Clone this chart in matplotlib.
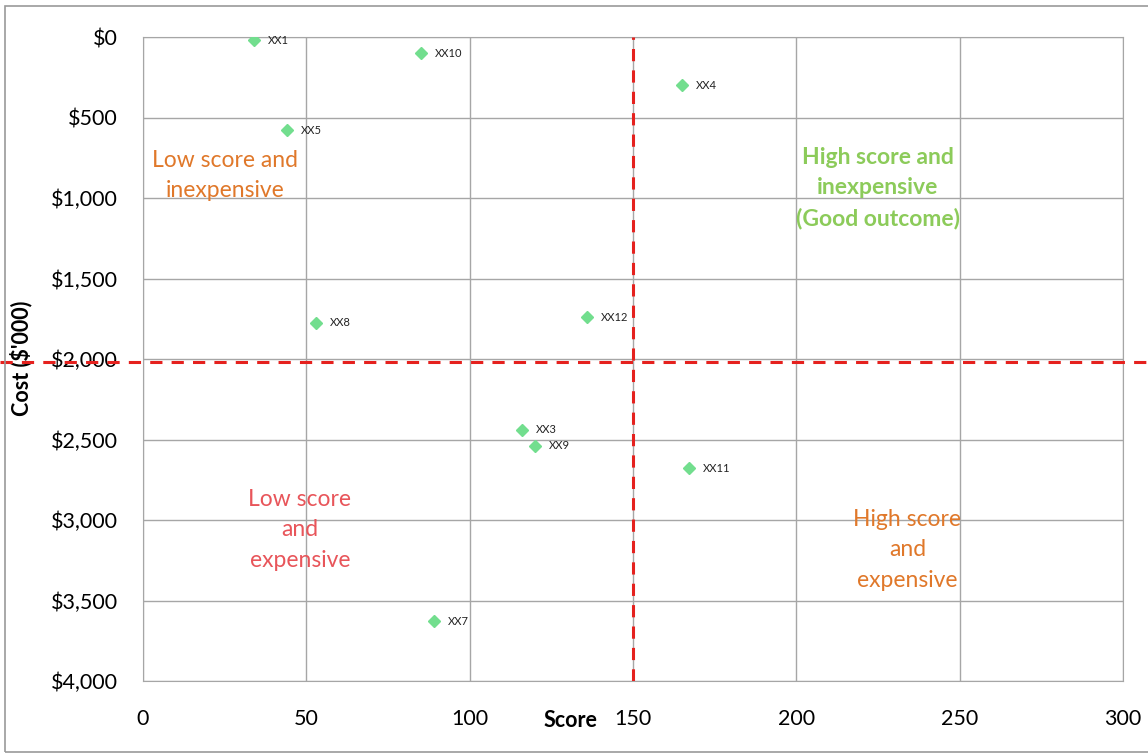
import matplotlib
matplotlib.use("Agg")
import matplotlib.pyplot as plt
from matplotlib.ticker import FuncFormatter, MultipleLocator
from matplotlib.patches import Rectangle

plt.rcParams['font.family'] = ['Lato', 'DejaVu Sans']

# project data: score vs cost ($'000)
names = ["XX1", "XX10", "XX4", "XX5", "XX8", "XX12", "XX3", "XX9", "XX11", "XX7"]
score = [34, 85, 165, 44, 53, 136, 116, 120, 167, 89]
cost = [20, 100, 300, 580, 1775, 1740, 2440, 2540, 2680, 3630]

score_cut = 150
cost_cut = 2020

quad_labels = ["Low score and\ninexpensive",
               "High score and\ninexpensive\n(Good outcome)",
               "Low score\nand\nexpensive",
               "High score\nand\nexpensive"]
quad_x = [25, 225, 48, 234]
quad_y = [860, 940, 3060, 3185]
quad_colors = ["#E0782A", "#8CCB5A", "#E8555A", "#E0782A"]
quad_bold = [False, True, False, False]

fig = plt.figure(figsize=(11.48, 7.54), dpi=100)
ax = fig.add_axes([143 / 1148, 1 - 681 / 754, 980 / 1148, 644 / 754])

# outer chart frame
fig.patches.append(Rectangle((5 / 1148, 2 / 754), 1.2, 746 / 754, transform=fig.transFigure,
                             fill=False, edgecolor="#9A9A9A", lw=1.2))

ax.set_xlim(0, 300)
ax.set_ylim(4000, 0)
ax.xaxis.set_major_locator(MultipleLocator(50))
ax.yaxis.set_major_locator(MultipleLocator(500))
ax.yaxis.set_major_formatter(FuncFormatter(lambda v, p: "${:,.0f}".format(v)))
ax.grid(True, color="#A6A6A6", lw=1)
ax.set_axisbelow(True)
for s in ax.spines.values():
    s.set_color("#A6A6A6")
ax.tick_params(length=0, labelsize=15.5, pad=18)
ax.tick_params(axis="x", pad=20)

ax.plot(score, cost, linestyle="none", marker="D", markersize=6.5,
        color="#72DE8E", markeredgecolor="#72DE8E", zorder=4)
for n, x, y in zip(names, score, cost):
    ax.annotate(n, (x, y), xytext=(10, 0), textcoords="offset points",
                fontsize=8, va="center", ha="left", color="#222222")

ax.axvline(score_cut, color="#E5211E", lw=2.2, ls=(0, (4, 3)), zorder=3)
ax.axhline(cost_cut, xmin=-143 / 980, xmax=1005 / 980, clip_on=False,
           color="#E5211E", lw=2.2, ls=(0, (4, 3)), zorder=3)

for t, x, y, c, b in zip(quad_labels, quad_x, quad_y, quad_colors, quad_bold):
    ax.text(x, y, t, ha="center", va="center", fontsize=16.5, color=c,
            fontweight="bold" if b else "normal", linespacing=1.55)

ax.set_xlabel("Score", fontsize=15.5, fontweight="bold")
ax.xaxis.set_label_coords((570 - 143) / 980, -(710 - 681) / 644)
ax.set_ylabel("Cost ($'000)", fontsize=15.5, fontweight="bold")
ax.yaxis.set_label_coords(-(143 - 32) / 980, (681 - 358) / 644)

fig.savefig("out.png", dpi=100)
